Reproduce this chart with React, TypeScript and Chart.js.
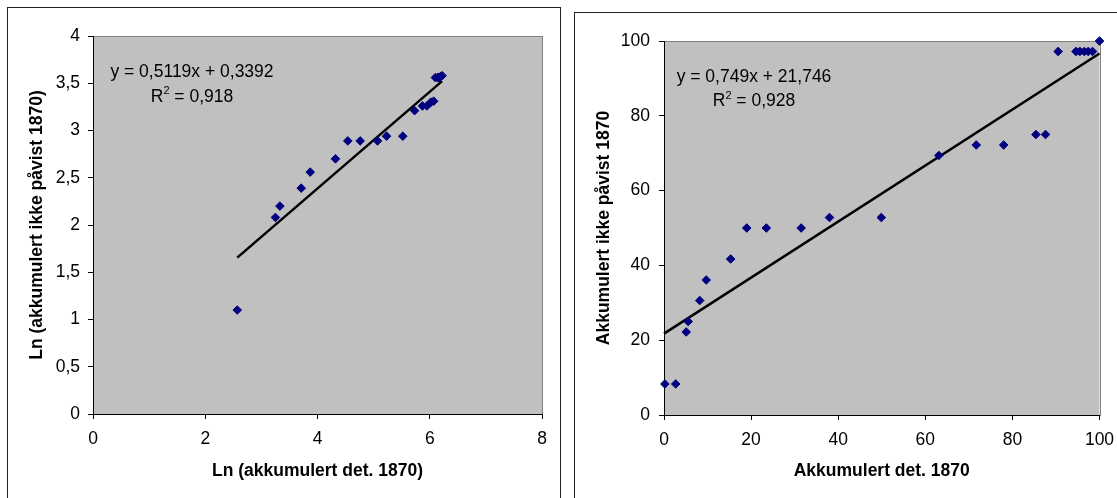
import React, { useEffect, useRef } from "react";
import { Chart, registerables } from "chart.js";

Chart.register(...registerables);

const FONT = '"Liberation Sans", Arial, Helvetica, sans-serif';

// ---- Left chart data (log scale values) ----
const leftX = [2.57, 3.25, 3.33, 3.71, 3.87, 4.32, 4.54, 4.76, 5.07, 5.23, 5.52, 5.73, 5.87, 5.95, 6.02, 6.07, 6.10, 6.14, 6.15, 6.16, 6.17, 6.19, 6.22];
const leftY = [1.10, 2.08, 2.20, 2.39, 2.56, 2.70, 2.89, 2.89, 2.89, 2.94, 2.94, 3.21, 3.26, 3.26, 3.30, 3.31, 3.56, 3.56, 3.56, 3.56, 3.56, 3.57, 3.58];
const leftTrendX = [2.57, 6.22];
const leftTrendY = [1.655, 3.523];
const leftEquation = "y = 0,5119x + 0,3392";
const leftR2 = " = 0,918";
const leftXTitle = "Ln (akkumulert det. 1870)";
const leftYTitle = "Ln (akkumulert ikke påvist 1870)";

// ---- Right chart data (percent values) ----
const rightX = [0.2, 2.7, 5.1, 5.55, 8.2, 9.7, 15.3, 19.0, 23.5, 31.5, 38.0, 49.9, 63.1, 71.7, 78.0, 85.4, 87.6, 90.5, 94.6, 95.5, 96.5, 97.4, 98.4, 100];
const rightY = [8.3, 8.3, 22.2, 25.0, 30.6, 36.1, 41.7, 50.0, 50.0, 50.0, 52.8, 52.8, 69.4, 72.2, 72.2, 75.0, 75.0, 97.2, 97.2, 97.2, 97.2, 97.2, 97.2, 100];
const rightTrendX = [0, 100];
const rightTrendY = [21.75, 96.65];
const rightEquation = "y = 0,749x + 21,746";
const rightR2 = " = 0,928";
const rightXTitle = "Akkumulert det. 1870";
const rightYTitle = "Akkumulert ikke påvist 1870";

type PanelProps = {
  xs: number[];
  ys: number[];
  tx: number[];
  ty: number[];
  xMin: number; xMax: number; xStep: number;
  yMin: number; yMax: number; yStep: number;
  xTitle: string; yTitle: string;
  eq: string; r2: string;
  w: number; h: number;
  yAxisW: number; xAxisH: number; padTop: number; padRight: number;
  yTitlePad: number; xTitlePad: number; yTickPad: number; xTickPad: number;
  eqCx: number; eqY1: number; eqY2: number;
};

const fmt = (v: any) => String(v).replace(".", ",");

function Panel(p: PanelProps) {
  const ref = useRef<HTMLCanvasElement | null>(null);
  useEffect(() => {
    if (!ref.current) return;
    const bgPlugin = {
      id: "plotBg",
      beforeDraw(chart: any) {
        const { ctx, chartArea: a } = chart;
        ctx.save();
        ctx.fillStyle = "#C0C0C0";
        ctx.fillRect(a.left, a.top, a.right - a.left, a.bottom - a.top);
        ctx.strokeStyle = "#808080";
        ctx.lineWidth = 1;
        ctx.strokeRect(Math.round(a.left) + 0.5, Math.round(a.top) + 0.5, Math.round(a.right - a.left), Math.round(a.bottom - a.top));
        ctx.restore();
      },
      afterDraw(chart: any) {
        const { ctx, chartArea: a } = chart;
        ctx.save();
        ctx.fillStyle = "#000";
        ctx.textBaseline = "middle";
        ctx.textAlign = "center";
        ctx.font = `17.5px ${FONT}`;
        ctx.fillText(p.eq, a.left + p.eqCx, a.top + p.eqY1);
        const big = `17.5px ${FONT}`;
        const small = `11px ${FONT}`;
        ctx.font = big;
        const wR = ctx.measureText("R").width;
        const wRest = ctx.measureText(p.r2).width;
        ctx.font = small;
        const w2 = ctx.measureText("2").width;
        const total = wR + w2 + wRest;
        let x = a.left + p.eqCx - total / 2;
        const y = a.top + p.eqY2;
        ctx.textAlign = "left";
        ctx.font = big;
        ctx.fillText("R", x, y);
        x += wR;
        ctx.font = small;
        ctx.fillText("2", x, y - 6);
        x += w2;
        ctx.font = big;
        ctx.fillText(p.r2, x, y);
        ctx.restore();
      },
    };

    const chart = new Chart(ref.current, {
      type: "scatter",
      data: {
        datasets: [
          {
            label: "data",
            data: p.xs.map((x, i) => ({ x, y: p.ys[i] })),
            backgroundColor: "#000080",
            borderColor: "#000080",
            pointStyle: "rectRot",
            pointRadius: 4.3,
            pointBorderWidth: 1,
            showLine: false,
            clip: false,
          },
          {
            label: "trend",
            data: p.tx.map((x, i) => ({ x, y: p.ty[i] })),
            borderColor: "#000",
            borderWidth: 2.5,
            pointRadius: 0,
            showLine: true,
            fill: false,
            clip: false,
          },
        ],
      },
      options: {
        responsive: false,
        maintainAspectRatio: false,
        animation: false,
        devicePixelRatio: 1,
        layout: { padding: { top: p.padTop, right: p.padRight, bottom: 0, left: 0 } },
        plugins: { legend: { display: false }, tooltip: { enabled: false } },
        scales: {
          x: {
            type: "linear",
            min: p.xMin,
            max: p.xMax,
            afterFit: (s: any) => { s.height = p.xAxisH; s.paddingLeft = 0; s.paddingRight = 0; },
            ticks: { stepSize: p.xStep, color: "#000", padding: p.xTickPad, font: { family: FONT, size: 17.5 }, callback: fmt, maxRotation: 0 },
            grid: { display: true, drawOnChartArea: false, drawTicks: true, tickLength: 5, color: "#000", tickColor: "#000" },
            border: { display: true, color: "#000", width: 1 },
            title: { display: true, text: p.xTitle, color: "#000", font: { family: FONT, size: 17.5, weight: "bold" }, padding: { top: 0, bottom: p.xTitlePad } },
          },
          y: {
            type: "linear",
            min: p.yMin,
            max: p.yMax,
            afterFit: (s: any) => { s.width = p.yAxisW; s.paddingTop = 0; s.paddingBottom = 0; },
            ticks: { stepSize: p.yStep, color: "#000", padding: p.yTickPad, font: { family: FONT, size: 17.5 }, callback: fmt },
            grid: { display: true, drawOnChartArea: false, drawTicks: true, tickLength: 5, color: "#000", tickColor: "#000" },
            border: { display: true, color: "#000", width: 1 },
            title: { display: true, text: p.yTitle, color: "#000", font: { family: FONT, size: 17.5, weight: "bold" }, padding: { top: p.yTitlePad, bottom: 0 } },
          },
        },
      } as any,
      plugins: [bgPlugin as any],
    });
    return () => chart.destroy();
  }, []);
  return <canvas ref={ref} width={p.w} height={p.h} style={{ position: "absolute", left: 0, top: 0, width: p.w, height: p.h }} />;
}

export default function App() {
  return (
    <div style={{ position: "fixed", inset: 0, overflow: "hidden", background: "#fff" }}>
      <div style={{ position: "absolute", left: 7, top: 7, width: 554, height: 520, border: "1px solid #222", boxSizing: "border-box" }}>
        <Panel
          xs={leftX} ys={leftY} tx={leftTrendX} ty={leftTrendY}
          xMin={0} xMax={8} xStep={2} yMin={0} yMax={4} yStep={0.5}
          xTitle={leftXTitle} yTitle={leftYTitle} eq={leftEquation} r2={leftR2}
          w={552} h={490} yAxisW={85} xAxisH={84} padTop={28} padRight={18}
          yTitlePad={19} xTitlePad={16} yTickPad={8} xTickPad={10}
          eqCx={99} eqY1={36} eqY2={61}
        />
      </div>
      <div style={{ position: "absolute", left: 574, top: 12, width: 600, height: 520, border: "1px solid #222", boxSizing: "border-box" }}>
        <Panel
          xs={rightX} ys={rightY} tx={rightTrendX} ty={rightTrendY}
          xMin={0} xMax={100} xStep={20} yMin={0} yMax={100} yStep={20}
          xTitle={rightXTitle} yTitle={rightYTitle} eq={rightEquation} r2={rightR2}
          w={542} h={485} yAxisW={89} xAxisH={83} padTop={28} padRight={17.5}
          yTitlePad={19} xTitlePad={16.5} yTickPad={9} xTickPad={10}
          eqCx={90} eqY1={36} eqY2={60.5}
        />
      </div>
    </div>
  );
}
